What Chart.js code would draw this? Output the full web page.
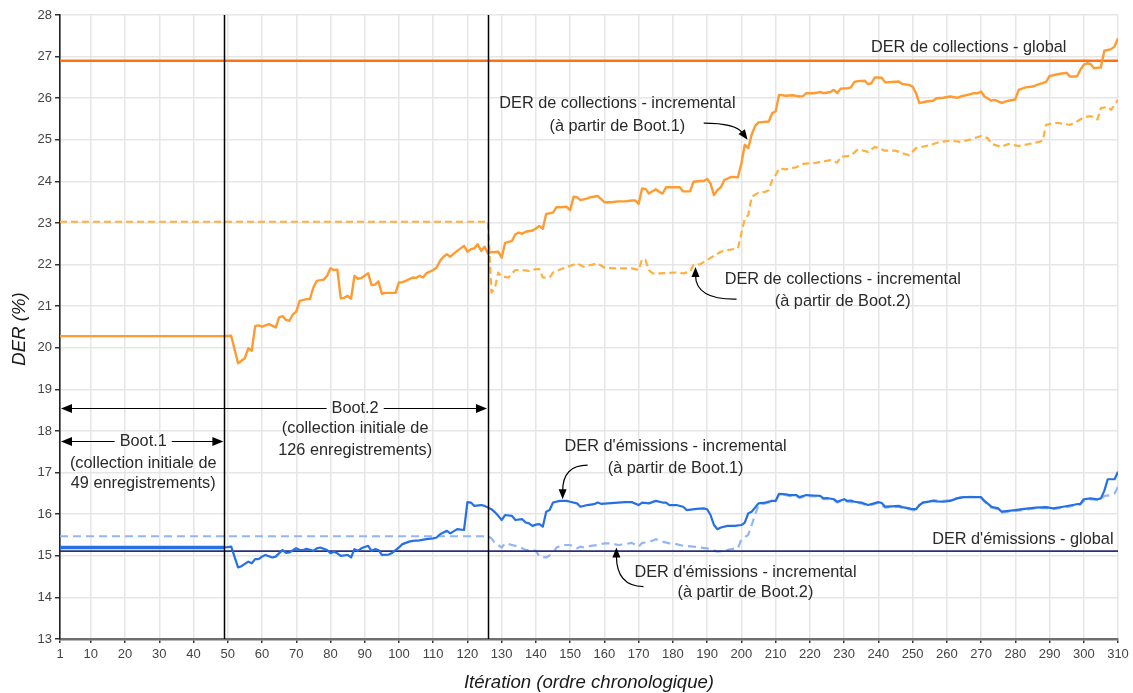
<!DOCTYPE html>
<html>
<head>
<meta charset="utf-8">
<script src="https://cdn.jsdelivr.net/npm/chart.js@4.4.1/dist/chart.umd.min.js"></script>
<style>
  html, body { margin: 0; padding: 0; background: #ffffff; }
  #wrap { width: 1133px; height: 693px; }
</style>
</head>
<body>
<div id="wrap"><canvas id="der" width="1133" height="693"></canvas></div>
<script>
// Iteration ticks on the horizontal axis
const xTickValues = [1, 10, 20, 30, 40, 50, 60, 70, 80, 90, 100, 110, 120, 130, 140, 150, 160, 170, 180, 190, 200, 210, 220, 230, 240, 250, 260, 270, 280, 290, 300, 310];

// Global DER values (%)
const collectionsGlobal = 26.9;
const emissionsGlobal = 15.11;

// Bootstrap boundaries (iteration index)
const boot1End = 49;
const boot2End = 126;

// DER de collections - incremental (from Boot.1): [iteration, DER %]
const collectionsBoot1 = [
  [1,20.28],[49,20.28],[51,20.29],[53,19.63],[55,19.75],[56,19.99],[57,19.93],[58,20.52],[59,20.54],[60,20.51],
  [62,20.57],[64,20.49],[65,20.73],[66,20.76],[67,20.67],[68,20.65],[69,20.80],[70,20.87],[71,21.13],[73,21.17],
  [74,21.17],[75,21.45],[76,21.61],[78,21.64],[79,21.73],[80,21.91],[81,21.87],[82,21.88],[83,21.19],[84,21.20],
  [85,21.25],[86,21.18],[87,21.73],[88,21.66],[89,21.68],[91,21.79],[92,21.51],[93,21.52],[94,21.60],[95,21.30],
  [96,21.32],[99,21.32],[100,21.57],[101,21.58],[102,21.61],[104,21.69],[105,21.68],[106,21.73],[107,21.69],[108,21.79],
  [110,21.87],[111,21.93],[112,22.09],[113,22.19],[114,22.25],[115,22.19],[117,22.33],[119,22.45],[120,22.31],[121,22.37],
  [122,22.39],[123,22.49],[124,22.33],[125,22.43],[126,22.27],[127,22.30],[129,22.31],[130,22.17],[131,22.52],[133,22.57],
  [134,22.73],[135,22.77],[136,22.74],[137,22.79],[139,22.82],[140,22.87],[141,22.93],[142,22.86],[143,23.22],[145,23.25],
  [146,23.38],[147,23.38],[149,23.39],[150,23.31],[151,23.63],[152,23.62],[153,23.55],[155,23.59],[156,23.62],[158,23.65],
  [160,23.50],[162,23.50],[164,23.52],[166,23.52],[168,23.54],[169,23.54],[170,23.46],[171,23.83],[172,23.82],[173,23.71],
  [175,23.81],[176,23.75],[177,23.71],[178,23.86],[180,23.86],[182,23.86],[183,23.76],[185,23.76],[186,23.99],[188,24.01],
  [189,24.01],[190,24.06],[191,23.95],[192,23.67],[193,23.79],[194,23.86],[195,24.03],[196,24.07],[197,24.11],[199,24.10],
  [200,24.43],[201,24.88],[202,24.80],[203,25.12],[204,25.33],[205,25.42],[208,25.44],[209,25.64],[210,25.68],[211,26.08],
  [213,26.06],[215,26.07],[217,26.04],[218,26.05],[219,26.12],[221,26.12],[222,26.13],[223,26.15],[224,26.12],[226,26.15],
  [227,26.20],[228,26.12],[229,26.23],[231,26.24],[232,26.26],[233,26.39],[234,26.41],[236,26.42],[237,26.34],[238,26.36],
  [239,26.50],[241,26.49],[242,26.38],[244,26.39],[246,26.40],[247,26.34],[249,26.32],[250,26.28],[251,26.12],[252,25.88],
  [254,25.92],[256,25.94],[257,26.00],[259,26.01],[261,26.04],[263,26.01],[264,26.04],[266,26.08],[268,26.12],[269,26.12],
  [270,26.16],[271,26.04],[273,25.94],[274,25.96],[276,25.89],[278,25.94],[280,25.97],[281,26.20],[283,26.26],[285,26.28],
  [287,26.34],[289,26.39],[290,26.53],[292,26.57],[294,26.60],[295,26.61],[296,26.52],[298,26.52],[299,26.68],[300,26.80],
  [301,26.84],[302,26.82],[303,26.72],[305,26.74],[306,27.14],[308,27.18],[309,27.24],[310,27.44]
];

// DER de collections - incremental (from Boot.2)
const collectionsBoot2 = [
  [1,23.03],[126,23.03],[127,21.33],[128,21.43],[129,21.81],[130,21.71],[132,21.69],[133,21.79],[134,21.87],[136,21.87],
  [138,21.85],[140,21.89],[141,21.89],[142,21.69],[144,21.69],[145,21.81],[148,21.91],[150,21.97],[152,22.03],[154,21.95],
  [156,21.99],[158,22.03],[160,21.93],[163,21.91],[166,21.91],[168,21.91],[170,21.87],[171,22.13],[172,22.11],[173,21.87],
  [174,21.79],[176,21.79],[179,21.80],[181,21.81],[183,21.79],[185,21.83],[186,21.99],[188,22.01],[190,22.11],[192,22.21],
  [194,22.31],[196,22.35],[199,22.39],[200,22.75],[201,23.11],[202,23.19],[203,23.63],[205,23.73],[207,23.75],[208,23.79],
  [209,24.03],[210,24.15],[211,24.31],[213,24.29],[216,24.34],[218,24.42],[222,24.45],[224,24.48],[226,24.51],[228,24.45],
  [229,24.59],[232,24.62],[234,24.77],[237,24.71],[239,24.83],[242,24.74],[245,24.74],[247,24.68],[249,24.63],[251,24.80],
  [255,24.87],[258,24.95],[261,24.98],[264,24.95],[267,25.01],[270,25.09],[272,25.04],[273,24.90],[276,24.83],[278,24.90],
  [281,24.85],[284,24.90],[287,24.95],[288,24.98],[289,25.36],[292,25.41],[296,25.36],[298,25.44],[300,25.54],[302,25.57],
  [304,25.49],[305,25.76],[307,25.79],[308,25.72],[310,25.96]
];

// DER d'émissions - incremental (from Boot.1)
const emissionsBoot1 = [
  [1,15.20],[49,15.20],[51,15.22],[53,14.72],[54,14.75],[56,14.86],[57,14.82],[58,14.92],[59,14.92],[60,14.98],
  [61,15.02],[63,14.96],[64,14.98],[66,15.14],[67,15.07],[68,15.08],[70,15.18],[71,15.14],[72,15.14],[73,15.17],
  [75,15.12],[76,15.18],[77,15.20],[79,15.14],[80,15.06],[81,15.10],[82,15.06],[83,15.00],[85,15.02],[86,14.96],
  [87,15.16],[88,15.12],[89,15.18],[91,15.24],[92,15.12],[93,15.16],[94,15.14],[95,15.02],[97,15.03],[98,15.07],
  [100,15.20],[101,15.28],[103,15.34],[104,15.36],[106,15.37],[108,15.40],[110,15.42],[111,15.44],[112,15.52],[113,15.56],
  [114,15.60],[115,15.54],[117,15.64],[119,15.62],[120,16.29],[121,16.28],[122,16.20],[124,16.22],[125,16.20],[127,16.12],
  [128,16.05],[129,15.96],[130,15.86],[131,15.98],[133,15.96],[134,15.86],[136,15.88],[137,15.80],[138,15.78],[139,15.72],
  [140,15.75],[141,15.76],[142,15.70],[143,16.06],[144,16.10],[145,16.28],[147,16.32],[149,16.32],[150,16.30],[152,16.26],
  [153,16.18],[155,16.22],[157,16.24],[158,16.28],[159,16.25],[161,16.26],[163,16.27],[166,16.29],[168,16.29],[170,16.22],
  [171,16.28],[173,16.26],[175,16.32],[177,16.28],[178,16.28],[179,16.22],[181,16.22],[183,16.18],[184,16.10],[187,16.13],
  [189,16.14],[190,16.12],[191,15.98],[192,15.74],[193,15.64],[194,15.68],[196,15.72],[198,15.72],[200,15.74],[201,15.80],
  [202,16.02],[203,16.06],[205,16.26],[207,16.28],[209,16.32],[210,16.32],[211,16.49],[213,16.48],[214,16.46],[216,16.46],
  [217,16.41],[219,16.46],[221,16.45],[223,16.44],[224,16.38],[225,16.39],[227,16.36],[228,16.30],[230,16.36],[231,16.32],
  [232,16.33],[233,16.30],[235,16.28],[237,16.22],[240,16.29],[241,16.27],[242,16.18],[244,16.19],[246,16.20],[247,16.17],
  [249,16.14],[250,16.12],[251,16.12],[252,16.22],[253,16.28],[256,16.32],[257,16.31],[259,16.30],[261,16.32],[263,16.38],
  [265,16.41],[267,16.41],[270,16.41],[271,16.32],[273,16.18],[275,16.14],[276,16.06],[278,16.08],[280,16.10],[282,16.12],
  [284,16.14],[286,16.16],[289,16.17],[291,16.14],[294,16.18],[296,16.21],[298,16.24],[299,16.25],[300,16.36],[302,16.38],
  [304,16.36],[305,16.38],[306,16.56],[307,16.84],[309,16.84],[310,17.02]
];

// DER d'émissions - incremental (from Boot.2)
const emissionsBoot2 = [
  [1,15.47],[126,15.47],[127,15.42],[128,15.31],[130,15.20],[131,15.30],[133,15.26],[135,15.22],[137,15.14],[139,15.14],
  [140,15.12],[141,14.98],[143,14.96],[145,15.06],[146,15.20],[148,15.26],[150,15.26],[152,15.18],[153,15.22],[154,15.20],
  [156,15.24],[158,15.26],[160,15.30],[162,15.30],[164,15.26],[166,15.28],[168,15.31],[170,15.22],[171,15.31],[173,15.33],
  [175,15.40],[177,15.34],[179,15.30],[181,15.28],[183,15.24],[186,15.22],[188,15.20],[190,15.18],[193,15.10],[195,15.12],
  [197,15.16],[199,15.18],[200,15.40],[202,15.50],[203,15.74],[205,16.22],[207,16.26],[209,16.30],[210,16.31],[211,16.47],
  [213,16.46],[214,16.44],[216,16.44],[217,16.39],[219,16.44],[221,16.43],[223,16.42],[224,16.36],[225,16.37],[227,16.34],
  [228,16.28],[230,16.34],[231,16.30],[233,16.28],[235,16.26],[237,16.20],[240,16.27],[242,16.16],[244,16.17],[246,16.18],
  [247,16.15],[249,16.12],[250,16.10],[251,16.10],[252,16.22],[253,16.28],[256,16.33],[259,16.32],[261,16.34],[263,16.39],
  [265,16.42],[267,16.42],[270,16.40],[271,16.30],[273,16.16],[275,16.12],[276,16.04],[278,16.06],[280,16.08],[282,16.10],
  [284,16.12],[286,16.14],[289,16.15],[291,16.12],[294,16.16],[296,16.19],[298,16.22],[299,16.23],[300,16.32],[302,16.36],
  [304,16.34],[305,16.36],[306,16.44],[308,16.46],[309,16.50],[310,16.66]
];

const toXY = arr => arr.map(p => ({ x: p[0], y: p[1] }));
const flat = v => [{ x: 1, y: v }, { x: 310, y: v }];

const TEXT_FONT = '16.3px "Liberation Sans", Arial, sans-serif';
const TEXT_COLOR = '#2a2a2a';

// Annotation layout, in data units (iteration, DER %)
const labelLines = [
  { text: 'DER de collections - global', x: 266.4, y: 27.21 },
  { text: 'DER de collections - incremental', x: 163.8, y: 25.88 },
  { text: '(à partir de Boot.1)', x: 163.8, y: 25.33 },
  { text: 'DER de collections - incremental', x: 229.6, y: 21.65 },
  { text: '(à partir de Boot.2)', x: 229.6, y: 21.11 },
  { text: "DER d'émissions - incremental", x: 180.8, y: 17.62 },
  { text: '(à partir de Boot.1)', x: 180.8, y: 17.09 },
  { text: "DER d'émissions - incremental", x: 201.2, y: 14.59 },
  { text: '(à partir de Boot.2)', x: 201.2, y: 14.11 },
  { text: "DER d'émissions - global", x: 282.2, y: 15.40 },
  { text: '(collection initiale de', x: 87.2, y: 18.05 },
  { text: '126 enregistrements)', x: 87.2, y: 17.54 },
  { text: '(collection initiale de', x: 25.3, y: 17.23 },
  { text: '49 enregistrements)', x: 25.3, y: 16.73 }
];

// Curved pointer arrows: start, control, tip
const pointers = [
  { s: [189.0, 25.40], c: [198.3, 25.40], t: [201.8, 25.00] },
  { s: [198.6, 21.17], c: [186.6, 21.15], t: [186.6, 21.94] },
  { s: [155.1, 17.18], c: [147.8, 17.18], t: [147.8, 16.36] },
  { s: [171.4, 14.26], c: [163.5, 14.27], t: [163.5, 15.20] }
];

// Span arrows for the bootstrap sets
const spans = [
  { label: 'Boot.2', from: 1, to: boot2End, y: 18.55, labelX: 87.2 },
  { label: 'Boot.1', from: 1, to: boot1End, y: 17.76, labelX: 25.3 }
];

function arrowHead(ctx, tx, ty, angle, len, half) {
  ctx.save();
  ctx.translate(tx, ty);
  ctx.rotate(angle);
  ctx.beginPath();
  ctx.moveTo(0, 0);
  ctx.lineTo(-len, -half);
  ctx.lineTo(-len, half);
  ctx.closePath();
  ctx.fill();
  ctx.restore();
}

const annotationPlugin = {
  id: 'derAnnotations',
  afterDatasetsDraw(chart) {
    const { ctx, chartArea, scales } = chart;
    const X = v => scales.x.getPixelForValue(v);
    const Y = v => scales.y.getPixelForValue(v);
    ctx.save();

    // bootstrap boundary lines
    ctx.strokeStyle = '#000';
    ctx.lineWidth = 1.5;
    [boot1End, boot2End].forEach(b => {
      const px = Math.round(X(b)) + 0.5;
      ctx.beginPath();
      ctx.moveTo(px, chartArea.top);
      ctx.lineTo(px, chartArea.bottom);
      ctx.stroke();
    });

    ctx.font = TEXT_FONT;
    ctx.fillStyle = TEXT_COLOR;
    ctx.textAlign = 'center';
    ctx.textBaseline = 'middle';

    // span arrows with centred labels
    spans.forEach(sp => {
      const y = Math.round(Y(sp.y)) + 0.5;
      const x0 = X(sp.from) + 1, x1 = X(sp.to) - 1;
      const lx = X(sp.labelX);
      const w = ctx.measureText(sp.label).width / 2 + 5;
      ctx.strokeStyle = '#000';
      ctx.fillStyle = '#000';
      ctx.lineWidth = 1.2;
      ctx.beginPath();
      ctx.moveTo(x0 + 4, y); ctx.lineTo(lx - w, y);
      ctx.moveTo(lx + w, y); ctx.lineTo(x1 - 4, y);
      ctx.stroke();
      arrowHead(ctx, x0, y, Math.PI, 11, 4.5);
      arrowHead(ctx, x1, y, 0, 11, 4.5);
      ctx.fillStyle = TEXT_COLOR;
      ctx.fillText(sp.label, lx, y);
    });

    // text lines
    ctx.fillStyle = TEXT_COLOR;
    labelLines.forEach(l => ctx.fillText(l.text, X(l.x), Y(l.y)));

    // curved pointers
    ctx.strokeStyle = '#000';
    ctx.fillStyle = '#000';
    ctx.lineWidth = 1.2;
    pointers.forEach(p => {
      const sx = X(p.s[0]), sy = Y(p.s[1]);
      const cx = X(p.c[0]), cy = Y(p.c[1]);
      const tx = X(p.t[0]), ty = Y(p.t[1]);
      const ang = Math.atan2(ty - cy, tx - cx);
      const bx = tx - Math.cos(ang) * 8, by = ty - Math.sin(ang) * 8;
      ctx.beginPath();
      ctx.moveTo(sx, sy);
      ctx.quadraticCurveTo(cx, cy, bx, by);
      ctx.stroke();
      arrowHead(ctx, tx, ty, ang, 10, 4);
    });

    ctx.restore();

    // axis titles
    ctx.save();
    ctx.fillStyle = '#1a1a1a';
    ctx.font = 'italic 18.6px "Liberation Sans", Arial, sans-serif';
    ctx.textAlign = 'center';
    ctx.textBaseline = 'middle';
    ctx.fillText('Itération (ordre chronologique)', (chartArea.left + chartArea.right) / 2, 683);
    ctx.translate(20, (chartArea.top + chartArea.bottom) / 2 + 2);
    ctx.rotate(-Math.PI / 2);
    ctx.fillText('DER (%)', 0, 0);
    ctx.restore();
  }
};

const lineBase = { pointRadius: 0, tension: 0, fill: false, borderJoinStyle: 'round', borderCapStyle: 'butt' };

new Chart(document.getElementById('der'), {
  type: 'line',
  data: {
    datasets: [
      Object.assign({}, lineBase, {
        label: 'DER de collections - incremental (Boot.1)',
        data: toXY(collectionsBoot1), borderColor: '#ff9b30', borderWidth: 2.4
      }),
      Object.assign({}, lineBase, {
        label: "DER d'émissions - incremental (Boot.1)",
        data: toXY(emissionsBoot1), borderColor: '#2670e6', borderWidth: 2.2,
        segment: { borderWidth: c => (c.p1.parsed.x <= boot1End ? 3.6 : 2.2) }
      }),
      Object.assign({}, lineBase, {
        label: 'DER de collections - global',
        data: flat(collectionsGlobal), borderColor: '#ff7212', borderWidth: 2.6
      }),
      Object.assign({}, lineBase, {
        label: "DER d'émissions - global",
        data: flat(emissionsGlobal), borderColor: '#2b2f78', borderWidth: 1.8
      }),
      Object.assign({}, lineBase, {
        label: 'DER de collections - incremental (Boot.2)',
        data: toXY(collectionsBoot2), borderColor: '#ffb040', borderWidth: 2.2, borderDash: [7, 4]
      }),
      Object.assign({}, lineBase, {
        label: "DER d'émissions - incremental (Boot.2)",
        data: toXY(emissionsBoot2), borderColor: '#92b6f4', borderWidth: 2.2, borderDash: [8, 5]
      })
    ]
  },
  options: {
    responsive: false,
    animation: false,
    layout: { padding: { top: 15, right: 15, left: 0, bottom: 0 } },
    plugins: { legend: { display: false }, tooltip: { enabled: false } },
    scales: {
      x: {
        type: 'linear', min: 1, max: 310,
        afterBuildTicks: s => { s.ticks = xTickValues.map(v => ({ value: v })); },
        afterFit: s => { s.height = 54; },
        grid: { color: '#e6e6e6', lineWidth: 1.5, tickLength: 4, tickColor: '#333', tickWidth: 1.5 },
        border: { color: '#6f6f6f', width: 2.5 },
        ticks: {
          autoSkip: false, maxRotation: 0, padding: 4, color: '#444',
          font: { family: '"Liberation Sans", Arial, sans-serif', size: 13 },
          callback: v => String(v)
        }
      },
      y: {
        min: 13, max: 28,
        afterFit: s => { s.width = 60; },
        grid: { color: '#e6e6e6', lineWidth: 1.5, tickLength: 5, tickColor: '#333', tickWidth: 1.5 },
        border: { color: '#222', width: 1.6 },
        ticks: {
          stepSize: 1, padding: 3, color: '#444',
          font: { family: '"Liberation Sans", Arial, sans-serif', size: 13 }
        }
      }
    }
  },
  plugins: [annotationPlugin]
});
</script>
</body>
</html>
